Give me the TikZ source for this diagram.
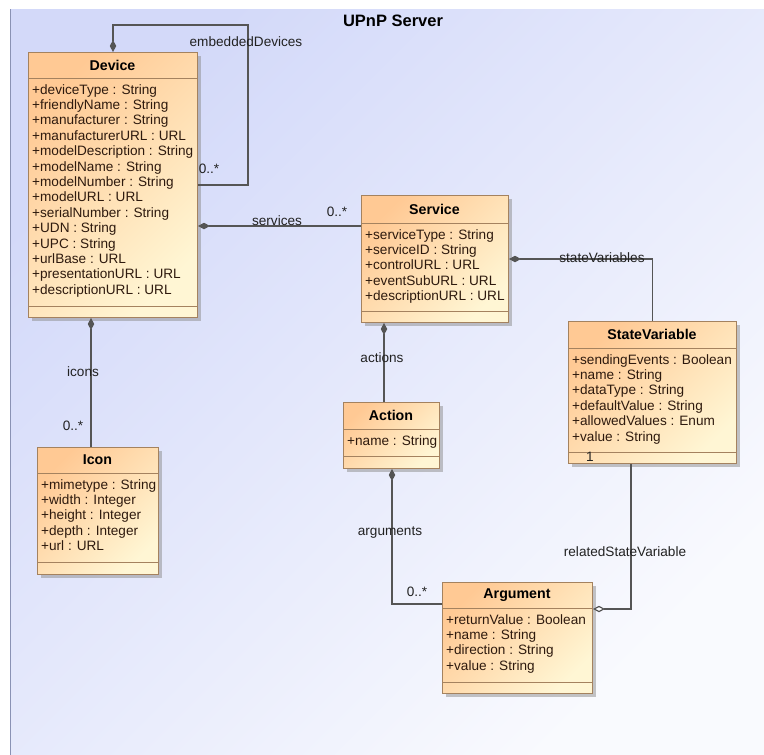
\documentclass[tikz,border=0pt]{standalone}
\usepackage{fontspec}
\setmainfont{Liberation Sans}
\usetikzlibrary{arrows.meta,shadows}

\definecolor{panelA}{HTML}{D3D9F9}
\definecolor{panelB}{HTML}{F9FAFE}
\definecolor{panelEdge}{HTML}{8A92B4}
\definecolor{boxA}{HTML}{FFC994}
\definecolor{boxB}{HTML}{FFF6D4}
\definecolor{boxLine}{HTML}{A4825F}
\definecolor{wire}{HTML}{555555}
\definecolor{attrText}{HTML}{2E1A0E}
\definecolor{labelText}{HTML}{222222}

\tikzset{
  classbox/.style={draw=boxLine, line width=1pt, top color=boxA, bottom color=boxB,
    shading angle=45, inner sep=0pt,
    drop shadow={shadow xshift=3pt, shadow yshift=-3pt, fill=black!45, opacity=0.5}},
  classsep/.style={draw=boxLine, line width=1pt},
  classtitle/.style={font=\fontsize{14.2}{16}\selectfont\bfseries, text=black, inner sep=0pt},
  pkgtitle/.style={font=\fontsize{16.5}{18}\selectfont\bfseries, text=black, inner sep=0pt},
  attr/.style={font=\fontsize{13.6}{15}\selectfont, text=attrText, inner sep=0pt},
  rolelabel/.style={font=\fontsize{13.6}{15}\selectfont, text=labelText, inner sep=0pt},
  comp/.style={draw=wire, line width=1.2pt,
    {Diamond[length=12pt,width=6.5pt,fill=wire]}-},
  agg/.style={draw=wire, line width=1.2pt,
    -{Diamond[open,length=12pt,width=6.5pt,fill=white]}},
}

% #1 name, #2 left, #3 top, #4 right, #5 bottom, #6 title,
% #7 y of header separator, #8 y of operations separator, #9 attributes
\newcommand\umlclass[9]{%
  \pgfmathsetmacro\clsw{#4-#2}%
  \pgfmathsetmacro\clsh{#5-#3}%
  \node[classbox, minimum width=\clsw pt, minimum height=\clsh pt, anchor=north west]
    (#1) at (#2,#3) {};
  \draw[classsep] (#2,#7) -- (#4,#7);
  \draw[classsep] (#2,#8) -- (#4,#8);
  \pgfmathsetmacro\clsx{(#2+#4)/2}%
  \pgfmathsetmacro\clsy{(#3+#7)/2}%
  \node[classtitle] (#1-title) at (\clsx,\clsy) {#6};
  \foreach \a [count=\i from 0] in {#9} {
    \node[attr, anchor=base west] (#1-a\i) at (#2+4, #7+16+15.4*\i) {\a};
  }%
}

\begin{document}
\begin{tikzpicture}[x=1pt,y=-1pt]
  \useasboundingbox (0,0) rectangle (764,755);
  \fill[white] (0,0) rectangle (764,755);

  % package frame
  \shade[top color=panelA, bottom color=panelB, shading angle=45] (10,9) rectangle (764,755);
  \draw[panelEdge, line width=1pt] (10,9) -- (10,755);
  \node[pkgtitle] (pkgtitle) at (393,21) {UPnP Server};

  % classes
  \umlclass{device}{28}{52}{197}{317}{Device}{78}{306}{%
    +deviceType : String, +friendlyName : String, +manufacturer : String,
    +manufacturerURL : URL, +modelDescription : String, +modelName : String,
    +modelNumber : String, +modelURL : URL, +serialNumber : String,
    +UDN : String, +UPC : String, +urlBase : URL, +presentationURL : URL,
    +descriptionURL : URL}
  \umlclass{service}{361}{195}{508}{322}{Service}{223}{311}{%
    +serviceType : String, +serviceID : String, +controlURL : URL,
    +eventSubURL : URL, +descriptionURL : URL}
  \umlclass{statevar}{568}{321}{736}{463}{StateVariable}{348}{452}{%
    +sendingEvents : Boolean, +name : String, +dataType : String,
    +defaultValue : String, +allowedValues : Enum, +value : String}
  \umlclass{icon}{37}{447}{158}{574}{Icon}{473}{562}{%
    +mimetype : String, +width : Integer, +height : Integer,
    +depth : Integer, +url : URL}
  \umlclass{action}{343}{402}{439}{468}{Action}{429}{456}{+name : String}
  \umlclass{argument}{442}{582}{592}{693}{Argument}{608}{682}{%
    +returnValue : Boolean, +name : String, +direction : String, +value : String}

  % association routing points
  \coordinate (edCorner) at (248,25);
  \coordinate (svcRow) at (0,226);
  \coordinate (iconCol) at (91,0);
  \coordinate (actCol) at (384,0);
  \coordinate (argCol) at (392,604);
  \coordinate (relRow) at (631,609);

  % associations
  \draw[comp] (device.north) |- (edCorner) |- (device.east);
  \draw[comp] (device.east |- svcRow) -- (service.west |- svcRow);
  \draw[comp] (service.east) -| (statevar.north);
  \draw[comp] (device.south -| iconCol) -- (icon.north -| iconCol);
  \draw[comp] (service.south -| actCol) -- (action.north -| actCol);
  \draw[comp] (action.south -| argCol) |- (argument.west |- argCol);
  \draw[agg] (statevar.south -| relRow) |- (argument.east |- relRow);

  % role names and multiplicities
  \node[rolelabel] (lblEmbedded) at (246,42) {embeddedDevices};
  \node[rolelabel] (mulEmbedded) at (209,169) {0..*};
  \node[rolelabel] (lblServices) at (277,221) {services};
  \node[rolelabel] (mulServices) at (337,212) {0..*};
  \node[rolelabel] (lblStateVars) at (602,258) {stateVariables};
  \node[rolelabel] (lblIcons) at (83,372) {icons};
  \node[rolelabel] (mulIcons) at (73,426) {0..*};
  \node[rolelabel] (lblActions) at (382,358) {actions};
  \node[rolelabel] (lblArguments) at (390,533) {arguments};
  \node[rolelabel] (mulArguments) at (417,592) {0..*};
  \node[rolelabel] (lblRelated) at (625,552) {relatedStateVariable};
  \node[rolelabel] (mulRelated) at (590,457) {1};
\end{tikzpicture}
\end{document}
